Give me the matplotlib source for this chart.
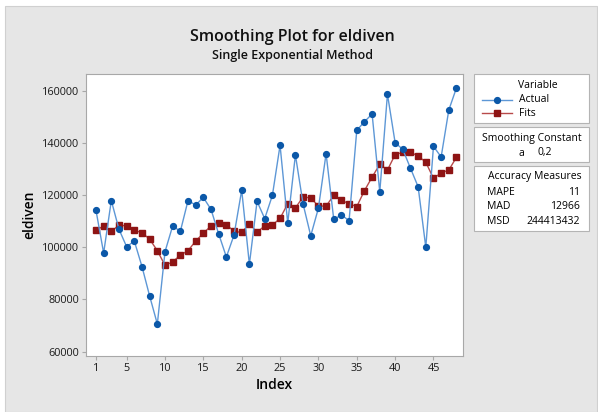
import matplotlib
matplotlib.use("Agg")
import matplotlib.pyplot as plt
from matplotlib.patches import Rectangle
from matplotlib.lines import Line2D

plt.rcParams['font.family'] = ['Open Sans', 'DejaVu Sans']

# values
index = list(range(1, 49))
actual = [114200, 97800, 117900, 106900, 100200, 102400, 92600, 81300, 70600, 98300,
          108200, 106100, 117900, 116200, 119100, 114500, 105100, 96300, 104700, 121900,
          93500, 117600, 111000, 119900, 139100, 109300, 135400, 116600, 104400, 115000,
          135900, 110700, 112400, 110200, 144800, 148100, 151100, 121200, 158700, 140100,
          137500, 130300, 123200, 100000, 138700, 134600, 152600, 161100]
fits = [106500, 108200, 106100, 108500, 108200, 106500, 105600, 103100, 98700, 93100,
        94400, 97000, 98700, 102400, 105400, 108200, 109400, 108700, 106100, 105700,
        109000, 105800, 108200, 108500, 111100, 116700, 115100, 119300, 118900, 115800,
        115800, 119900, 118000, 116700, 115600, 121700, 126900, 131800, 129600, 135500,
        136400, 136400, 135000, 132600, 126400, 128500, 129600, 134500]
xticks = [1, 5, 10, 15, 20, 25, 30, 35, 40, 45]
yticks = [60000, 80000, 100000, 120000, 140000, 160000]
measures = [("MAPE", "11"), ("MAD", "12966"), ("MSD", "244413432")]
alpha_txt = "0,2"

W, H = 598, 412
fig = plt.figure(figsize=(W / 100, H / 100), dpi=100, facecolor="white")


def fx(px):
    return px / W


def fy(py):
    return 1 - py / H


# gray panel behind everything
fig.patches.append(Rectangle((fx(5), 0), fx(592), fy(6), transform=fig.transFigure,
                             facecolor="#e6e6e6", edgecolor="#d0d0d0", lw=0.8, zorder=-10))

ax = fig.add_axes([fx(86), fy(356), fx(463 - 86), fy(74) - fy(356)])
ax.set_facecolor("white")

blue_line = "#5d97d6"
blue_mark = "#0b58a8"
red_line = "#b84a4a"
red_mark = "#8e1414"

ax.plot(index, actual, color=blue_line, lw=1.0, marker="o", ms=4.2,
        mfc=blue_mark, mec=blue_mark, zorder=3)
ax.plot(index, fits, color=red_line, lw=1.0, marker="s", ms=4.6,
        mfc=red_mark, mec=red_mark, zorder=2)

ax.set_xlim(-0.3, 48.85)
ax.set_ylim(58350, 166400)
ax.set_xticks(xticks)
ax.set_yticks(yticks)
ax.set_yticklabels([str(v) for v in yticks])
for s in ax.spines.values():
    s.set_color("#a8a8a8")
    s.set_linewidth(0.8)
ax.tick_params(direction="out", length=3, width=0.8, color="#a8a8a8",
               labelsize=7.8, labelcolor="#1a1a1a", pad=2)
ax.set_xlabel("Index", fontsize=10, fontweight="semibold", labelpad=3)
ax.set_ylabel("eldiven", fontsize=10, fontweight="semibold", labelpad=4)

# titles
fig.text(fx(292), fy(37), "Smoothing Plot for eldiven", ha="center", va="center",
         fontsize=11.5, fontweight="semibold", color="#111111")
fig.text(fx(292), fy(56), "Single Exponential Method", ha="center", va="center",
         fontsize=9, fontweight="semibold", color="#111111")

# legend / info boxes on the right
for y0, y1 in [(74, 123), (127, 162), (166, 231)]:
    fig.patches.append(Rectangle((fx(474), fy(y1)), fx(589 - 474), fy(y0) - fy(y1),
                                 transform=fig.transFigure, facecolor="white",
                                 edgecolor="#b4b4b4", lw=0.8))

fs = 7.5
fig.text(fx(538), fy(85), "Variable", ha="center", va="center", fontsize=fs)
fig.lines.append(Line2D([fx(482), fx(512)], [fy(100), fy(100)], transform=fig.transFigure,
                        color=blue_line, lw=1.0))
fig.lines.append(Line2D([fx(497)], [fy(100)], transform=fig.transFigure, ls="none",
                        marker="o", ms=4.2, mfc=blue_mark, mec=blue_mark))
fig.text(fx(519), fy(100), "Actual", ha="left", va="center", fontsize=fs)
fig.lines.append(Line2D([fx(482), fx(512)], [fy(113), fy(113)], transform=fig.transFigure,
                        color=red_line, lw=1.0))
fig.lines.append(Line2D([fx(497)], [fy(113)], transform=fig.transFigure, ls="none",
                        marker="s", ms=4.6, mfc=red_mark, mec=red_mark))
fig.text(fx(519), fy(113), "Fits", ha="left", va="center", fontsize=fs)

fig.text(fx(532), fy(138), "Smoothing Constant", ha="center", va="center", fontsize=fs)
fig.text(fx(521), fy(153), "a", ha="center", va="center", fontsize=fs)
fig.text(fx(538), fy(153), alpha_txt, ha="left", va="center", fontsize=fs)

fig.text(fx(535), fy(177), "Accuracy Measures", ha="center", va="center", fontsize=fs)
for k, (name, val) in enumerate(measures):
    yy = 192.5 + k * 14.3
    fig.text(fx(487), fy(yy), name, ha="left", va="center", fontsize=fs)
    fig.text(fx(580), fy(yy), val, ha="right", va="center", fontsize=fs)

fig.savefig("out.png", dpi=100, facecolor="white")
